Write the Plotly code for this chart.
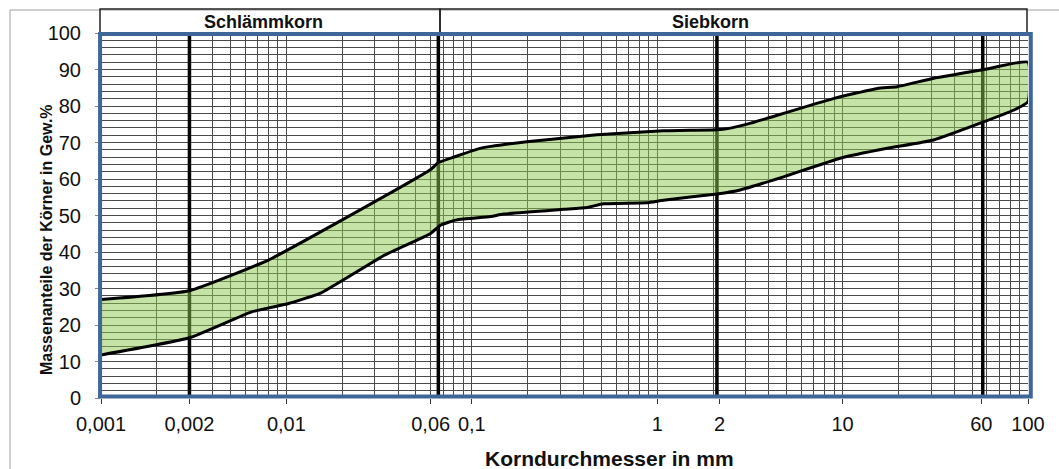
import plotly.graph_objects as go

# ---- data ----
upper_x = [0.001, 0.003, 0.008, 0.02, 0.06, 0.066, 0.081, 0.111, 0.198, 0.473, 1.08,
           2.1, 2.4, 3.2, 3.9, 9.0, 15.4, 19.7, 31, 58, 100]
upper_y = [27.0, 29.4, 37.8, 48.8, 62.6, 64.5, 66.1, 68.4, 70.2, 72.1, 73.2,
           73.5, 73.8, 75.3, 76.6, 82.1, 84.8, 85.3, 87.6, 90.0, 92.0]
lower_x = [0.001, 0.003, 0.0065, 0.0103, 0.0155, 0.034, 0.06, 0.068, 0.083, 0.126, 0.148,
           0.313, 0.418, 0.514, 0.88, 1.08, 2.1, 2.8, 4.8, 9.7, 17.4, 31, 58, 84, 100]
lower_y = [11.8, 16.5, 23.6, 25.9, 28.9, 39.2, 45.1, 47.4, 48.8, 49.7, 50.4,
           51.7, 52.2, 53.2, 53.5, 54.2, 55.9, 57.0, 60.6, 65.7, 68.4, 70.7, 75.7, 78.9, 81.2]

x_tick_vals = [0.001, 0.003, 0.01, 0.06, 0.1, 1, 2.17, 10, 56, 100]
x_tick_text = ["0,001", "0,002", "0,01", "0,06", "0,1", "1", "2", "10", "60", "100"]
y_tick_vals = [0, 10, 20, 30, 40, 50, 60, 70, 80, 90, 100]
boundary_x = [0.003, 0.066, 2.1, 57]
grid_x = [m * 10 ** e for e in range(-3, 2) for m in range(1, 10)] + [100]

header_labels = ["Schlämmkorn", "Siebkorn"]
x_title = "Korndurchmesser in mm"
y_title = "Massenanteile der Körner in Gew.%"

# ---- figure ----
poly_x = upper_x + lower_x[::-1]
poly_y = upper_y + lower_y[::-1]

fig = go.Figure()
fig.add_trace(go.Scatter(
    x=poly_x, y=poly_y, mode="lines", fill="toself",
    fillcolor="rgba(140,200,80,0.5)",
    line=dict(color="black", width=3, shape="spline", smoothing=0.4),
    hoverinfo="skip", showlegend=False,
))

shapes = []
# bold boundary lines (between grid and traces)
for bx in boundary_x:
    shapes.append(dict(type="line", xref="x", yref="y", x0=bx, x1=bx, y0=0, y1=99.5,
                       line=dict(color="black", width=3.5), layer="between"))
# outer chart frame (grey)
fx0 = (10 - 101) / 927
fy1 = (398 - 10) / 365
shapes.append(dict(type="line", xref="paper", yref="paper", x0=fx0, x1=1.2, y0=fy1, y1=fy1,
                   line=dict(color="#a0a0a0", width=1), layer="above"))
shapes.append(dict(type="line", xref="paper", yref="paper", x0=fx0, x1=fx0, y0=-0.4, y1=fy1,
                   line=dict(color="#a0a0a0", width=1), layer="above"))
# header boxes
hy0 = 1.0
hy1 = (398 - 9) / 365
hx = [(100 - 101) / 927, (440 - 101) / 927, (1027 - 101) / 927]
for i in range(2):
    shapes.append(dict(type="rect", xref="paper", yref="paper", x0=hx[i], x1=hx[i + 1],
                       y0=hy0, y1=hy1, line=dict(color="#222", width=1.5), layer="above"))
# blue plot-area border
shapes.append(dict(type="rect", xref="paper", yref="paper", x0=-0.001, x1=1.003,
                   y0=0.004, y1=0.997, line=dict(color="#3f6698", width=4), layer="above"))

def ann(text, px, py, size, angle=0):
    return dict(text="<b>%s</b>" % text, xref="paper", yref="paper",
                x=(px - 101) / 927, y=(398 - py) / 365, showarrow=False,
                xanchor="center", yanchor="middle", textangle=angle,
                font=dict(family="Liberation Sans, Arial", size=size, color="#111"))

annotations = [
    ann(header_labels[0], 263, 22, 18),
    ann(header_labels[1], 710, 22, 18),
    ann(x_title, 609, 458, 21),
    ann(y_title, 46, 240, 16, -90),
]

fig.update_layout(
    width=1059, height=469,
    margin=dict(l=101, r=31, t=33, b=71),
    paper_bgcolor="white", plot_bgcolor="white",
    shapes=shapes, annotations=annotations,
    font=dict(family="Liberation Sans, Arial", size=20, color="#111"),
    showlegend=False,
)
fig.update_xaxes(
    type="log", range=[-3, 2], showgrid=False, zeroline=False, showline=False,
    tickmode="array", tickvals=x_tick_vals, ticktext=x_tick_text,
    ticks="outside", ticklen=5, tickcolor="#333", tickwidth=1,
    ticklabelstandoff=3,
    minor=dict(tickmode="array", tickvals=grid_x, showgrid=True,
               gridcolor="#4a4a4a", gridwidth=1, ticks=""),
)
fig.update_yaxes(
    range=[0, 100], tickmode="array", tickvals=y_tick_vals,
    showgrid=True, gridcolor="#4a4a4a", gridwidth=1, zeroline=False, showline=False,
    ticks="outside", ticklen=5, tickcolor="#888", tickwidth=1,
    ticklabelstandoff=10,
    minor=dict(dtick=2, showgrid=True, gridcolor="#4a4a4a", gridwidth=1, ticks=""),
)

fig.write_html("out.html")
